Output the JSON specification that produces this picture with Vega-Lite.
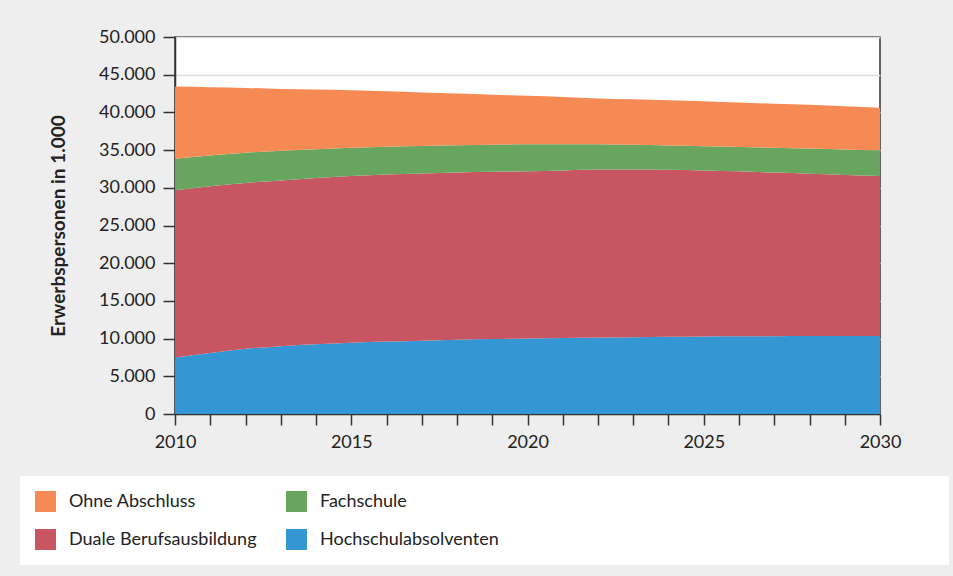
{
  "$schema": "https://vega.github.io/schema/vega-lite/v6.json",
  "autosize": {"type": "none"},
  "width": 705,
  "height": 377,
  "padding": {"left": 175, "top": 37, "right": 73, "bottom": 162},
  "background": "#eeeeee",
  "config": {
    "font": "Lato",
    "view": {"fill": "white", "stroke": "#333333", "strokeWidth": 1.5},
    "axis": {"domainColor": "#333333", "tickColor": "#333333", "labelColor": "#222222", "labelFont": "Lato", "labelFontSize": 18, "titleFont": "Lato"}
  },
  "data": {
    "values": [
      {"Jahr": 2010, "Kategorie": "Hochschulabsolventen", "Wert": 7500},
      {"Jahr": 2011, "Kategorie": "Hochschulabsolventen", "Wert": 8100},
      {"Jahr": 2012, "Kategorie": "Hochschulabsolventen", "Wert": 8650},
      {"Jahr": 2013, "Kategorie": "Hochschulabsolventen", "Wert": 9000},
      {"Jahr": 2014, "Kategorie": "Hochschulabsolventen", "Wert": 9250},
      {"Jahr": 2015, "Kategorie": "Hochschulabsolventen", "Wert": 9450},
      {"Jahr": 2016, "Kategorie": "Hochschulabsolventen", "Wert": 9600},
      {"Jahr": 2017, "Kategorie": "Hochschulabsolventen", "Wert": 9720},
      {"Jahr": 2018, "Kategorie": "Hochschulabsolventen", "Wert": 9850},
      {"Jahr": 2019, "Kategorie": "Hochschulabsolventen", "Wert": 9950},
      {"Jahr": 2020, "Kategorie": "Hochschulabsolventen", "Wert": 10020},
      {"Jahr": 2021, "Kategorie": "Hochschulabsolventen", "Wert": 10080},
      {"Jahr": 2022, "Kategorie": "Hochschulabsolventen", "Wert": 10130},
      {"Jahr": 2023, "Kategorie": "Hochschulabsolventen", "Wert": 10180},
      {"Jahr": 2024, "Kategorie": "Hochschulabsolventen", "Wert": 10230},
      {"Jahr": 2025, "Kategorie": "Hochschulabsolventen", "Wert": 10270},
      {"Jahr": 2026, "Kategorie": "Hochschulabsolventen", "Wert": 10300},
      {"Jahr": 2027, "Kategorie": "Hochschulabsolventen", "Wert": 10320},
      {"Jahr": 2028, "Kategorie": "Hochschulabsolventen", "Wert": 10340},
      {"Jahr": 2029, "Kategorie": "Hochschulabsolventen", "Wert": 10350},
      {"Jahr": 2030, "Kategorie": "Hochschulabsolventen", "Wert": 10350},
      {"Jahr": 2010, "Kategorie": "Duale Berufsausbildung", "Wert": 22160},
      {"Jahr": 2011, "Kategorie": "Duale Berufsausbildung", "Wert": 22100},
      {"Jahr": 2012, "Kategorie": "Duale Berufsausbildung", "Wert": 22000},
      {"Jahr": 2013, "Kategorie": "Duale Berufsausbildung", "Wert": 21980},
      {"Jahr": 2014, "Kategorie": "Duale Berufsausbildung", "Wert": 22050},
      {"Jahr": 2015, "Kategorie": "Duale Berufsausbildung", "Wert": 22110},
      {"Jahr": 2016, "Kategorie": "Duale Berufsausbildung", "Wert": 22150},
      {"Jahr": 2017, "Kategorie": "Duale Berufsausbildung", "Wert": 22180},
      {"Jahr": 2018, "Kategorie": "Duale Berufsausbildung", "Wert": 22180},
      {"Jahr": 2019, "Kategorie": "Duale Berufsausbildung", "Wert": 22180},
      {"Jahr": 2020, "Kategorie": "Duale Berufsausbildung", "Wert": 22180},
      {"Jahr": 2021, "Kategorie": "Duale Berufsausbildung", "Wert": 22220},
      {"Jahr": 2022, "Kategorie": "Duale Berufsausbildung", "Wert": 22290},
      {"Jahr": 2023, "Kategorie": "Duale Berufsausbildung", "Wert": 22240},
      {"Jahr": 2024, "Kategorie": "Duale Berufsausbildung", "Wert": 22150},
      {"Jahr": 2025, "Kategorie": "Duale Berufsausbildung", "Wert": 22030},
      {"Jahr": 2026, "Kategorie": "Duale Berufsausbildung", "Wert": 21880},
      {"Jahr": 2027, "Kategorie": "Duale Berufsausbildung", "Wert": 21700},
      {"Jahr": 2028, "Kategorie": "Duale Berufsausbildung", "Wert": 21520},
      {"Jahr": 2029, "Kategorie": "Duale Berufsausbildung", "Wert": 21350},
      {"Jahr": 2030, "Kategorie": "Duale Berufsausbildung", "Wert": 21210},
      {"Jahr": 2010, "Kategorie": "Fachschule", "Wert": 4200},
      {"Jahr": 2011, "Kategorie": "Fachschule", "Wert": 4100},
      {"Jahr": 2012, "Kategorie": "Fachschule", "Wert": 4000},
      {"Jahr": 2013, "Kategorie": "Fachschule", "Wert": 3920},
      {"Jahr": 2014, "Kategorie": "Fachschule", "Wert": 3800},
      {"Jahr": 2015, "Kategorie": "Fachschule", "Wert": 3740},
      {"Jahr": 2016, "Kategorie": "Fachschule", "Wert": 3700},
      {"Jahr": 2017, "Kategorie": "Fachschule", "Wert": 3650},
      {"Jahr": 2018, "Kategorie": "Fachschule", "Wert": 3620},
      {"Jahr": 2019, "Kategorie": "Fachschule", "Wert": 3590},
      {"Jahr": 2020, "Kategorie": "Fachschule", "Wert": 3560},
      {"Jahr": 2021, "Kategorie": "Fachschule", "Wert": 3470},
      {"Jahr": 2022, "Kategorie": "Fachschule", "Wert": 3340},
      {"Jahr": 2023, "Kategorie": "Fachschule", "Wert": 3280},
      {"Jahr": 2024, "Kategorie": "Fachschule", "Wert": 3220},
      {"Jahr": 2025, "Kategorie": "Fachschule", "Wert": 3220},
      {"Jahr": 2026, "Kategorie": "Fachschule", "Wert": 3240},
      {"Jahr": 2027, "Kategorie": "Fachschule", "Wert": 3300},
      {"Jahr": 2028, "Kategorie": "Fachschule", "Wert": 3340},
      {"Jahr": 2029, "Kategorie": "Fachschule", "Wert": 3380},
      {"Jahr": 2030, "Kategorie": "Fachschule", "Wert": 3410},
      {"Jahr": 2010, "Kategorie": "Ohne Abschluss", "Wert": 9560},
      {"Jahr": 2011, "Kategorie": "Ohne Abschluss", "Wert": 9050},
      {"Jahr": 2012, "Kategorie": "Ohne Abschluss", "Wert": 8600},
      {"Jahr": 2013, "Kategorie": "Ohne Abschluss", "Wert": 8220},
      {"Jahr": 2014, "Kategorie": "Ohne Abschluss", "Wert": 7930},
      {"Jahr": 2015, "Kategorie": "Ohne Abschluss", "Wert": 7630},
      {"Jahr": 2016, "Kategorie": "Ohne Abschluss", "Wert": 7350},
      {"Jahr": 2017, "Kategorie": "Ohne Abschluss", "Wert": 7100},
      {"Jahr": 2018, "Kategorie": "Ohne Abschluss", "Wert": 6850},
      {"Jahr": 2019, "Kategorie": "Ohne Abschluss", "Wert": 6630},
      {"Jahr": 2020, "Kategorie": "Ohne Abschluss", "Wert": 6440},
      {"Jahr": 2021, "Kategorie": "Ohne Abschluss", "Wert": 6280},
      {"Jahr": 2022, "Kategorie": "Ohne Abschluss", "Wert": 6090},
      {"Jahr": 2023, "Kategorie": "Ohne Abschluss", "Wert": 6030},
      {"Jahr": 2024, "Kategorie": "Ohne Abschluss", "Wert": 6000},
      {"Jahr": 2025, "Kategorie": "Ohne Abschluss", "Wert": 5960},
      {"Jahr": 2026, "Kategorie": "Ohne Abschluss", "Wert": 5880},
      {"Jahr": 2027, "Kategorie": "Ohne Abschluss", "Wert": 5830},
      {"Jahr": 2028, "Kategorie": "Ohne Abschluss", "Wert": 5800},
      {"Jahr": 2029, "Kategorie": "Ohne Abschluss", "Wert": 5720},
      {"Jahr": 2030, "Kategorie": "Ohne Abschluss", "Wert": 5660}
    ]
  },
  "transform": [
    {"calculate": "indexof(['Hochschulabsolventen', 'Duale Berufsausbildung', 'Fachschule', 'Ohne Abschluss'], datum.Kategorie)", "as": "Stapelrang"}
  ],
  "mark": {"type": "area", "interpolate": "monotone", "opacity": 1},
  "encoding": {
    "x": {
      "field": "Jahr",
      "type": "quantitative",
      "scale": {"domain": [2010, 2030], "nice": false, "zero": false},
      "axis": {
        "title": null,
        "values": [2010, 2011, 2012, 2013, 2014, 2015, 2016, 2017, 2018, 2019, 2020, 2021, 2022, 2023, 2024, 2025, 2026, 2027, 2028, 2029, 2030],
        "labelExpr": "datum.value % 5 == 0 ? '' + datum.value : ''",
        "tickSize": 11,
        "tickWidth": 1.5,
        "domainWidth": 1.5,
        "labelPadding": 8,
        "labelFlush": false,
        "grid": false,
        "labelOverlap": false
      }
    },
    "y": {
      "field": "Wert",
      "type": "quantitative",
      "stack": "zero",
      "scale": {"domain": [0, 50000], "nice": false},
      "axis": {
        "title": "Erwerbspersonen in 1.000",
        "titleFontSize": 19,
        "titleFontWeight": "bold",
        "titleColor": "#222222",
        "titlePadding": 30,
        "values": [0, 5000, 10000, 15000, 20000, 25000, 30000, 35000, 40000, 45000, 50000],
        "labelExpr": "replace(format(datum.value, ','), ',', '.')",
        "tickSize": 12,
        "tickWidth": 1.5,
        "domainWidth": 1.5,
        "labelPadding": 8,
        "labelFlush": false,
        "grid": true,
        "gridColor": "#dddddd",
        "gridWidth": 1.5
      }
    },
    "color": {
      "field": "Kategorie",
      "type": "nominal",
      "scale": {
        "domain": ["Ohne Abschluss", "Duale Berufsausbildung", "Fachschule", "Hochschulabsolventen"],
        "range": ["#f58a55", "#c75562", "#68a660", "#3497d4"]
      },
      "legend": {
        "orient": "none",
        "legendX": -155,
        "legendY": 439,
        "columns": 2,
        "title": " ",
        "titleOrient": "right",
        "titlePadding": 435,
        "fillColor": "white",
        "padding": 15,
        "symbolType": "square",
        "symbolSize": 441,
        "symbolStrokeWidth": 0,
        "symbolOpacity": 1,
        "labelFont": "Lato",
        "labelFontSize": 18,
        "labelColor": "#222222",
        "labelLimit": 400,
        "labelOffset": 13,
        "columnPadding": 29,
        "rowPadding": 17
      }
    },
    "order": {"field": "Stapelrang", "type": "quantitative", "sort": "ascending"}
  }
}
